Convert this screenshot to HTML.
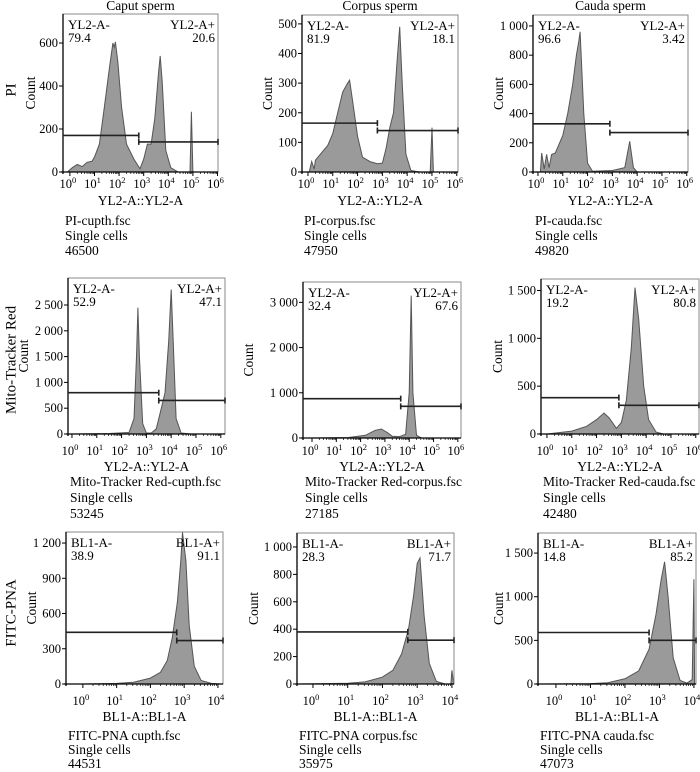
<!DOCTYPE html>
<html><head><meta charset="utf-8"><style>
html,body{margin:0;padding:0;background:#fff;}
svg{display:block;font-family:"Liberation Serif",serif;}
</style></head><body>
<svg id="fig" width="700" height="772" viewBox="0 0 700 772"></svg>
<script>
// ---- data (log10 position, count) ----
const piCaputHist=[[-0.1,0],[0.1,20],[0.3,35],[0.5,25],[0.7,45],[0.9,50],[1.0,70],[1.2,130],[1.4,300],[1.6,480],[1.75,600],[1.8,580],[1.85,605],[1.95,510],[2.1,300],[2.3,130],[2.6,60],[2.85,15],[3.0,60],[3.15,130],[3.3,130],[3.45,250],[3.6,460],[3.67,540],[3.75,420],[3.9,100],[4.1,20],[4.4,0],[4.88,0],[4.94,280],[5.0,0]];
const piCorpusHist=[[0.05,0],[0.15,35],[0.25,10],[0.3,40],[0.5,60],[0.8,90],[1.0,130],[1.2,200],[1.4,270],[1.6,300],[1.68,310],[1.8,240],[2.0,120],[2.2,50],[2.5,35],[2.8,28],[3.0,30],[3.15,80],[3.3,150],[3.45,200],[3.6,380],[3.7,490],[3.8,300],[3.95,60],[4.15,5],[4.5,0],[4.93,0],[5.0,150],[5.06,0]];
const piCaudaHist=[[0.1,0],[0.15,130],[0.25,20],[0.35,120],[0.45,30],[0.55,120],[0.7,130],[1.0,250],[1.2,400],[1.4,600],[1.55,800],[1.65,900],[1.7,960],[1.85,400],[2.0,60],[2.2,5],[3.0,10],[3.5,30],[3.7,210],[3.85,30],[4.0,0]];
const mitoCaputHist=[[0,0],[1.5,10],[2.3,30],[2.5,300],[2.6,1500],[2.66,2450],[2.72,1500],[2.85,200],[3.0,20],[3.2,20],[3.4,100],[3.6,500],[3.75,800],[3.9,1800],[4.0,2800],[4.08,1800],[4.2,300],[4.4,20],[4.8,0]];
const mitoCorpusHist=[[0,0],[1.5,10],[2.2,60],[2.6,170],[2.85,200],[3.1,120],[3.3,40],[3.6,30],[3.85,80],[4.0,1000],[4.08,3150],[4.15,1000],[4.3,60],[4.5,0]];
const mitoCaudaHist=[[0,0],[1.0,30],[1.6,80],[2.0,150],[2.3,220],[2.5,170],[2.8,60],[3.0,120],[3.2,350],[3.4,900],[3.55,1530],[3.7,1200],[3.9,500],[4.1,150],[4.4,20],[4.7,0]];
const fitcCaputHist=[[-0.5,0],[0,0],[1.0,5],[1.5,15],[2.0,50],[2.3,100],[2.5,200],[2.65,400],[2.8,700],[2.9,1050],[2.95,1290],[3.05,1050],[3.15,500],[3.3,150],[3.5,30],[3.8,5],[4.1,0]];
const fitcCorpusHist=[[-0.4,0],[1.0,5],[1.5,15],[2.0,50],[2.3,100],[2.55,220],[2.75,400],[2.9,650],[3.0,880],[3.08,920],[3.2,500],[3.35,150],[3.55,20],[3.8,0],[3.97,0],[4.0,100],[4.05,0]];
const fitcCaudaHist=[[-0.4,0],[1.0,5],[1.5,15],[2.0,60],[2.4,150],[2.7,400],[2.9,800],[3.05,1200],[3.15,1400],[3.25,1000],[3.4,300],[3.6,40],[3.8,10],[3.95,50],[4.0,1200],[4.02,0]];
const yTicksPI1=[0,200,400,600];
const yTicksPI2=[0,100,200,300,400,500];
const yTicksPI3=[0,200,400,600,800,1000];
const yTicksM1=[0,500,1000,1500,2000,2500];
const yTicksM2=[0,1000,2000,3000];
const yTicksM3=[0,500,1000,1500];
const yTicksF1=[0,300,600,900,1200];
const yTicksF2=[0,200,400,600,800,1000];
const yTicksF3=[0,500,1000,1500];
const xDecades6=[0,1,2,3,4,5,6];
const xDecades4=[0,1,2,3,4];
const gateValues=[[170,2.8,140],[165,2.8,140],[330,2.9,270],[800,3.5,650],[870,3.65,700],[380,2.9,300],[440,2.78,370],[380,2.73,320],[590,2.7,500]];
const pctNeg=["79.4","81.9","96.6","52.9","32.4","19.2","38.9","28.3","14.8"];
const pctPos=["20.6","18.1","3.42","47.1","67.6","80.8","91.1","71.7","85.2"];

const NS="http://www.w3.org/2000/svg";
const svg=document.getElementById('fig');
function mk(tag,attrs,parent){const e=document.createElementNS(NS,tag);for(const k in attrs)e.setAttribute(k,attrs[k]);(parent||svg).appendChild(e);return e;}
function fmt(v){return v>=1000?String(v).replace(/(\d)(\d{3})$/,'$1 $2'):String(v);}

const panels=[
 {id:'pi-caput',box:[63,14,218,172],xd:[-0.28,6.02],ymax:735,yt:yTicksPI1,xt:xDecades6,h:piCaputHist,ch:'YL2',ax:'YL2-A::YL2-A',files:['PI-cupth.fsc','Single cells','46500'],cx:32,off:[16,33,53,15],title:'Caput sperm',row:'PI',rowY:90},
 {id:'pi-corpus',box:[302,15,458,172],xd:[-0.24,6.05],ymax:530,yt:yTicksPI2,xt:xDecades6,h:piCorpusHist,ch:'YL2',ax:'YL2-A::YL2-A',files:['PI-corpus.fsc','Single cells','47950'],cx:269,off:[16,33,53,15],title:'Corpus sperm'},
 {id:'pi-cauda',box:[533,15,688,172],xd:[-0.2,6.05],ymax:1075,yt:yTicksPI3,xt:xDecades6,h:piCaudaHist,ch:'YL2',ax:'YL2-A::YL2-A',files:['PI-cauda.fsc','Single cells','49820'],cx:500,off:[16,33,53,15],title:'Cauda sperm'},
 {id:'mito-caput',box:[68,278,225,434],xd:[-0.16,6.17],ymax:3023,yt:yTicksM1,xt:xDecades6,h:mitoCaputHist,ch:'YL2',ax:'YL2-A::YL2-A',files:['Mito-Tracker Red-cupth.fsc','Single cells','53245'],cx:25,off:[21,37,52,16],row:'Mito-Tracker Red',rowY:360},
 {id:'mito-corpus',box:[303,282,461,438],xd:[-0.37,6.13],ymax:3450,yt:yTicksM2,xt:xDecades6,h:mitoCorpusHist,ch:'YL2',ax:'YL2-A::YL2-A',files:['Mito-Tracker Red-corpus.fsc','Single cells','27185'],cx:250,off:[17,33,48,16]},
 {id:'mito-cauda',box:[541,279,699,434],xd:[-0.24,6.13],ymax:1620,yt:yTicksM3,xt:xDecades6,h:mitoCaudaHist,ch:'YL2',ax:'YL2-A::YL2-A',files:['Mito-Tracker Red-cauda.fsc','Single cells','42480'],cx:499,off:[21,37,52,16]},
 {id:'fitc-caput',box:[66,532,223,684],xd:[-0.5,4.15],ymax:1294,yt:yTicksF1,xt:xDecades4,h:fitcCaputHist,ch:'BL1',ax:'BL1-A::BL1-A',files:['FITC-PNA cupth.fsc','Single cells','44531'],cx:33,off:[21,37,56,14],row:'FITC-PNA',rowY:613},
 {id:'fitc-corpus',box:[297,533,454,684],xd:[-0.46,4.06],ymax:1102,yt:yTicksF2,xt:xDecades4,h:fitcCorpusHist,ch:'BL1',ax:'BL1-A::BL1-A',files:['FITC-PNA corpus.fsc','Single cells','35975'],cx:255,off:[21,37,56,14]},
 {id:'fitc-cauda',box:[538,533,696,684],xd:[-0.52,4.06],ymax:1730,yt:yTicksF3,xt:xDecades4,h:fitcCaudaHist,ch:'BL1',ax:'BL1-A::BL1-A',files:['FITC-PNA cauda.fsc','Single cells','47073'],cx:500,off:[21,37,56,14]}
];

panels.forEach((p,i)=>{
 const [l,t,r,b]=p.box;
 const X=v=>l+(v-p.xd[0])/(p.xd[1]-p.xd[0])*(r-l);
 const Y=v=>b-v/p.ymax*(b-t);
 const g=mk('g',{});
 
 
 let d='M'+X(p.h[0][0])+','+Y(0);
 p.h.forEach(pt=>{d+=' L'+X(pt[0]).toFixed(1)+','+Y(Math.min(pt[1],p.ymax)).toFixed(1);});
 d+=' L'+X(p.h[p.h.length-1][0])+','+Y(0)+' Z';
 const hp=mk('path',{d:d,fill:'#9a9a9a',stroke:'#555','stroke-width':'1'},g);
 
 
 const fr=mk('rect',{x:l,y:t,width:r-l,height:b-t,fill:'none',stroke:'#888','stroke-width':'1'},g);
 
 
 mk('line',{x1:l,y1:t,x2:l,y2:b+2,stroke:'#000','stroke-width':'1.3'},g);
 mk('line',{x1:l-2,y1:b,x2:r,y2:b,stroke:'#000','stroke-width':'1.3'},g);
 p.yt.forEach(v=>{
  mk('line',{x1:l-4,y1:Y(v),x2:l,y2:Y(v),stroke:'#000'},g);
  const tx=mk('text',{x:l-5,y:Y(v)+4,'text-anchor':'end','font-size':'12.5'},g);
  tx.textContent=fmt(v);
  
  
 });
 p.xt.forEach(v=>{
  mk('line',{x1:X(v),y1:b,x2:X(v),y2:b+4,stroke:'#000'},g);
  for(let k=2;k<10&&v<p.xt[p.xt.length-1];k++){const xv=X(v+Math.log10(k));mk('line',{x1:xv,y1:b,x2:xv,y2:b+2,stroke:'#000','stroke-width':'0.7'},g);}
  const tx=mk('text',{x:X(v)-2,y:b+p.off[0],'text-anchor':'middle','font-size':'12.5'},g);
  
  
  tx.appendChild(document.createTextNode('10'));
  const sp=mk('tspan',{dy:'-5','font-size':'8.5'},tx);sp.textContent=String(v);
 });
 const gv=gateValues[i];
 const gx=X(gv[1]);
 const gl=mk('path',{d:`M${l},${Y(gv[0])} H${gx} M${gx},${Y(gv[0])-3} V${Y(gv[0])+3}`,stroke:'#222','stroke-width':'1.6',fill:'none'},g);
 
 
 const gr=mk('path',{d:`M${gx},${Y(gv[2])} H${r} M${gx},${Y(gv[2])-3} V${Y(gv[2])+3} M${r},${Y(gv[2])-3} V${Y(gv[2])+3}`,stroke:'#222','stroke-width':'1.6',fill:'none'},g);
 
 
 const n1=mk('text',{x:l+5,y:t+15,'font-size':'13'},g);n1.textContent=p.ch+'-A-';
 
 
 const n2=mk('text',{x:l+5,y:t+28,'font-size':'13'},g);n2.textContent=pctNeg[i];
 
 
 const q1=mk('text',{x:r-3,y:t+15,'font-size':'13','text-anchor':'end'},g);q1.textContent=p.ch+'-A+';
 
 
 const q2=mk('text',{x:r-3,y:t+28,'font-size':'13','text-anchor':'end'},g);q2.textContent=pctPos[i];
 
 
 const xa=mk('text',{x:(l+r)/2,y:b+p.off[1],'text-anchor':'middle','font-size':'13.5'},g);xa.textContent=p.ax;
 
 
 const cy=(t+b)/2;
 const ya=mk('text',{x:p.cx,y:cy,'text-anchor':'middle','font-size':'13.5',transform:`rotate(-90 ${p.cx} ${cy})`,'dominant-baseline':'middle'},g);ya.textContent='Count';
 
 
 p.files.forEach((s,k)=>{
  const ft=mk('text',{x:l+2,y:b+p.off[2]+k*p.off[3],'font-size':'13.5'},g);ft.textContent=s;
  
  
 });
 if(p.title){
  const ct=mk('text',{x:(l+r)/2,y:10,'text-anchor':'middle','font-size':'13.5'},g);ct.textContent=p.title;
  
  
 }
 if(p.row){
  const rt=mk('text',{x:12,y:p.rowY,'text-anchor':'middle','font-size':'15',transform:`rotate(-90 12 ${p.rowY})`,'dominant-baseline':'middle'},g);rt.textContent=p.row;
  
  
 }
});
</script>
</body></html>
